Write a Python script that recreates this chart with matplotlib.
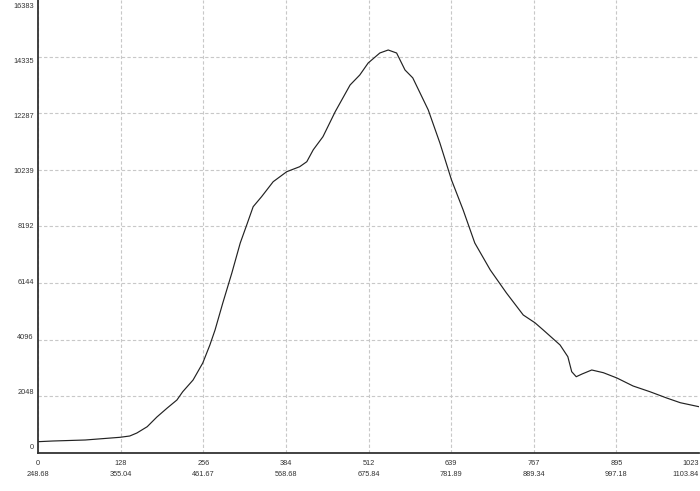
import matplotlib.pyplot as plt

# channel index and counts
channel = [0, 23, 73, 127, 142, 153, 169, 184, 200, 215, 224, 240, 255, 266, 274,
           286, 300, 313, 323, 333, 346, 364, 385, 405, 416, 426, 441, 460, 483,
           498, 511, 529, 542, 555, 568, 580, 604, 622, 640, 658, 676, 700, 725,
           751, 769, 782, 808, 820, 826, 833, 842, 857, 875, 896, 921, 947, 973,
           994, 1023]
counts = [409, 434, 470, 568, 615, 723, 951, 1302, 1627, 1917, 2217, 2640, 3255,
          3906, 4448, 5425, 6510, 7595, 8246, 8908, 9269, 9812, 10174, 10354,
          10535, 10966, 11439, 12344, 13309, 13671, 14105, 14466, 14575, 14466,
          13852, 13567, 12405, 11211, 9873, 8788, 7595, 6618, 5787, 4991, 4712,
          4448, 3906, 3483, 2940, 2759, 2857, 3002, 2904, 2712, 2423, 2217, 1989,
          1819, 1674]

x_ticks = [0, 128, 256, 384, 512, 639, 767, 895, 1023]
x_wave = ['248.68', '355.04', '461.67', '568.68', '675.84', '781.89', '889.34',
          '997.18', '1103.84']
y_ticks = [0, 2048, 4096, 6144, 8192, 10239, 12287, 14335, 16383]

plt.rcParams['font.family'] = ['Liberation Sans', 'DejaVu Sans']

fig = plt.figure(figsize=(7, 4.91), dpi=100)
ax = fig.add_axes([38 / 700, 38 / 491, 661 / 700, 453 / 491])

ax.plot(channel, counts, color='#222222', lw=0.85)

ax.set_xlim(0, 1023)
ax.set_ylim(0, 16383)
ax.set_xticks(x_ticks)
ax.set_xticklabels([f'{t}\n{w}' for t, w in zip(x_ticks, x_wave)], linespacing=1.9)
ax.get_xticklabels()[-1].set_ha('right')

# grid on the real values, labels spread a bit tighter (as in the source program)
ax.set_yticks(y_ticks)
ax.set_yticklabels([])
lab_pos = [217 + v * 0.9757 for v in y_ticks]
ax.set_yticks(lab_pos, minor=True)
ax.set_yticklabels([str(t) for t in y_ticks], minor=True)

ax.tick_params(which='both', length=0, labelsize=5.3, labelcolor='#333333')
ax.tick_params(axis='x', pad=5)
ax.tick_params(axis='y', which='both', pad=3)

ax.grid(True, which='major', color='#c8c8c8', lw=0.8, linestyle=(0, (3, 2)))
ax.xaxis.get_gridlines()[-1].set_visible(False)
ax.yaxis.get_gridlines()[-1].set_visible(False)
for s in ['top', 'right']:
    ax.spines[s].set_visible(False)
for s in ['left', 'bottom']:
    ax.spines[s].set_color('#333333')
    ax.spines[s].set_linewidth(1.3)

fig.savefig('out.png', dpi=100)
